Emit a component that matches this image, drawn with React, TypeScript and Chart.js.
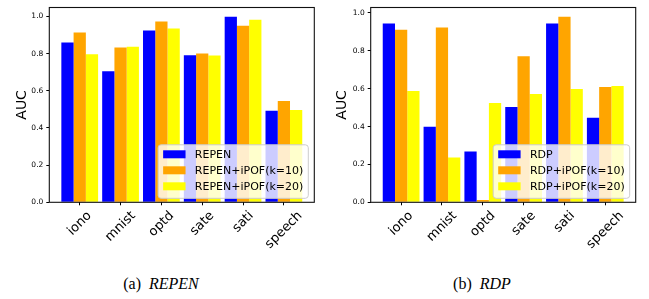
import React, { useEffect, useRef } from 'react';
import { Chart, registerables } from 'chart.js';

Chart.register(...registerables);
Chart.defaults.font.family = '"DejaVu Sans", sans-serif';
Chart.defaults.color = '#000';

const categories = ['iono', 'mnist', 'optd', 'sate', 'sati', 'speech'];
const yTicks = [0, 0.2, 0.4, 0.6, 0.8, 1.0];
const seriesColors = ['#0000ff', '#ffa500', '#ffff00'];

const repenLabels = ['REPEN', 'REPEN+iPOF(k=10)', 'REPEN+iPOF(k=20)'];
const repenBase = [0.86, 0.705, 0.924, 0.791, 0.998, 0.492];
const repenK10 = [0.913, 0.833, 0.972, 0.801, 0.95, 0.545];
const repenK20 = [0.796, 0.837, 0.935, 0.79, 0.982, 0.497];

const rdpLabels = ['RDP', 'RDP+iPOF(k=10)', 'RDP+iPOF(k=20)'];
const rdpBase = [0.944, 0.399, 0.269, 0.504, 0.944, 0.447];
const rdpK10 = [0.912, 0.923, 0.012, 0.771, 0.98, 0.609];
const rdpK20 = [0.588, 0.237, 0.525, 0.572, 0.598, 0.614];

type PanelProps = {
  labels: string[];
  series: number[][];
  left: number;
  width: number;
  yAxisWidth: number;
  rightPad: number;
  titlePad: number;
};

const CANVAS_H = 260;
const PLOT_TOP = 5.7;
const PLOT_BOTTOM = 202.3;

const overlayPlugin = {
  id: 'overlay',
  afterDraw(chart: any) {
    const { ctx, chartArea: a } = chart;
    // frame (spines)
    ctx.save();
    ctx.strokeStyle = '#111';
    ctx.lineWidth = 1.1;
    ctx.strokeRect(a.left, a.top, a.right - a.left, a.bottom - a.top);
    ctx.restore();

    // legend
    const ds = chart.data.datasets;
    ctx.save();
    ctx.font = '11px "DejaVu Sans"';
    let maxW = 0;
    ds.forEach((d: any) => {
      maxW = Math.max(maxW, ctx.measureText(d.label).width);
    });
    const boxW = 36.7 + maxW + 5;
    const boxH = 53.5;
    const bx = a.right - 6 - boxW;
    const by = a.bottom - 4 - boxH;
    ctx.beginPath();
    if ((ctx as any).roundRect) (ctx as any).roundRect(bx, by, boxW, boxH, 3);
    else ctx.rect(bx, by, boxW, boxH);
    ctx.fillStyle = 'rgba(255,255,255,0.8)';
    ctx.fill();
    ctx.strokeStyle = '#cccccc';
    ctx.lineWidth = 1;
    ctx.stroke();
    ds.forEach((d: any, i: number) => {
      const cy = by + 9.5 + i * 16;
      ctx.fillStyle = d.backgroundColor;
      ctx.fillRect(bx + 5, cy - 4, 22.4, 8);
      ctx.fillStyle = '#000';
      ctx.textAlign = 'left';
      ctx.textBaseline = 'middle';
      ctx.fillText(d.label, bx + 36.7, cy + 0.5);
    });
    ctx.restore();

    // rotated x tick labels (centered like matplotlib)
    const xs = chart.scales.x;
    ctx.save();
    ctx.font = '13px "DejaVu Sans"';
    ctx.fillStyle = '#000';
    ctx.textAlign = 'center';
    ctx.textBaseline = 'middle';
    const h = 13 * 1.17;
    categories.forEach((c, i) => {
      const px = xs.getPixelForValue(i);
      const w = ctx.measureText(c).width;
      const half = (w + h) / (2 * Math.SQRT2);
      const cy = a.bottom + 6 + half;
      ctx.save();
      ctx.translate(px, cy);
      ctx.rotate(-Math.PI / 4);
      ctx.fillText(c, 0, 0);
      ctx.restore();
    });
    ctx.restore();
  },
};

function Panel({ labels, series, left, width, yAxisWidth, rightPad, titlePad }: PanelProps) {
  const ref = useRef<HTMLCanvasElement | null>(null);
  useEffect(() => {
    if (!ref.current) return;
    let maxVal = 0;
    series.forEach((s) => s.forEach((v) => (maxVal = Math.max(maxVal, v))));
    const yMax = maxVal * 1.05;
    const chart = new Chart(ref.current, {
      type: 'bar',
      data: {
        datasets: series.map((s, k) => ({
          label: labels[k],
          data: s.map((v, i) => ({ x: i, y: v })),
          backgroundColor: seriesColors[k],
          borderWidth: 0,
          categoryPercentage: 0.9,
          barPercentage: 1.0,
        })),
      },
      options: {
        responsive: false,
        animation: false,
        devicePixelRatio: 1,
        layout: { padding: { left: 0, top: PLOT_TOP, right: rightPad, bottom: 0 } },
        plugins: { legend: { display: false }, tooltip: { enabled: false } },
        scales: {
          x: {
            type: 'linear',
            min: -0.745,
            max: 5.745,
            offset: false,
            afterBuildTicks: (s: any) => {
              s.ticks = categories.map((_, i) => ({ value: i }));
            },
            afterFit: (s: any) => {
              s.height = CANVAS_H - PLOT_BOTTOM;
            },
            ticks: { display: false },
            grid: { offset: false, drawOnChartArea: false, drawTicks: true, tickLength: 3, color: '#000', lineWidth: 1 },
            border: { display: false },
          },
          y: {
            type: 'linear',
            min: 0,
            max: yMax,
            afterBuildTicks: (s: any) => {
              s.ticks = yTicks.map((v) => ({ value: v }));
            },
            afterFit: (s: any) => {
              s.width = yAxisWidth;
            },
            ticks: {
              font: { size: 7.5 },
              color: '#000',
              padding: 3,
              callback: (v: any) => Number(v).toFixed(1),
            },
            grid: { drawOnChartArea: false, drawTicks: true, tickLength: 3, color: '#000', lineWidth: 1 },
            border: { display: false },
            title: {
              display: true,
              text: 'AUC',
              font: { size: 14 },
              color: '#000',
              padding: { top: titlePad, bottom: 0 },
            },
          },
        },
      },
      plugins: [overlayPlugin],
    } as any);
    return () => chart.destroy();
  }, []);
  return (
    <canvas
      ref={ref}
      width={width}
      height={CANVAS_H}
      style={{ position: 'absolute', left, top: 0, width, height: CANVAS_H }}
    />
  );
}

const captionStyle: React.CSSProperties = {
  position: 'absolute',
  top: 275,
  width: 200,
  textAlign: 'center',
  fontFamily: '"Liberation Serif", serif',
  fontSize: 16,
  lineHeight: '18px',
  color: '#000',
  whiteSpace: 'nowrap',
};

export default function App() {
  return (
    <div style={{ position: 'fixed', left: 0, top: 0, width: 649, height: 299, background: '#fff', overflow: 'hidden' }}>
      <Panel
        labels={repenLabels}
        series={[repenBase, repenK10, repenK20]}
        left={0}
        width={324}
        yAxisWidth={49.3}
        rightPad={9.7}
        titlePad={13.6}
      />
      <Panel
        labels={rdpLabels}
        series={[rdpBase, rdpK10, rdpK20]}
        left={324}
        width={325}
        yAxisWidth={46.7}
        rightPad={13.3}
        titlePad={10}
      />
      <div style={{ ...captionStyle, left: 61 }}>
        (a)<span style={{ fontStyle: 'italic', marginLeft: 8 }}>REPEN</span>
      </div>
      <div style={{ ...captionStyle, left: 382 }}>
        (b)<span style={{ fontStyle: 'italic', marginLeft: 8 }}>RDP</span>
      </div>
    </div>
  );
}
